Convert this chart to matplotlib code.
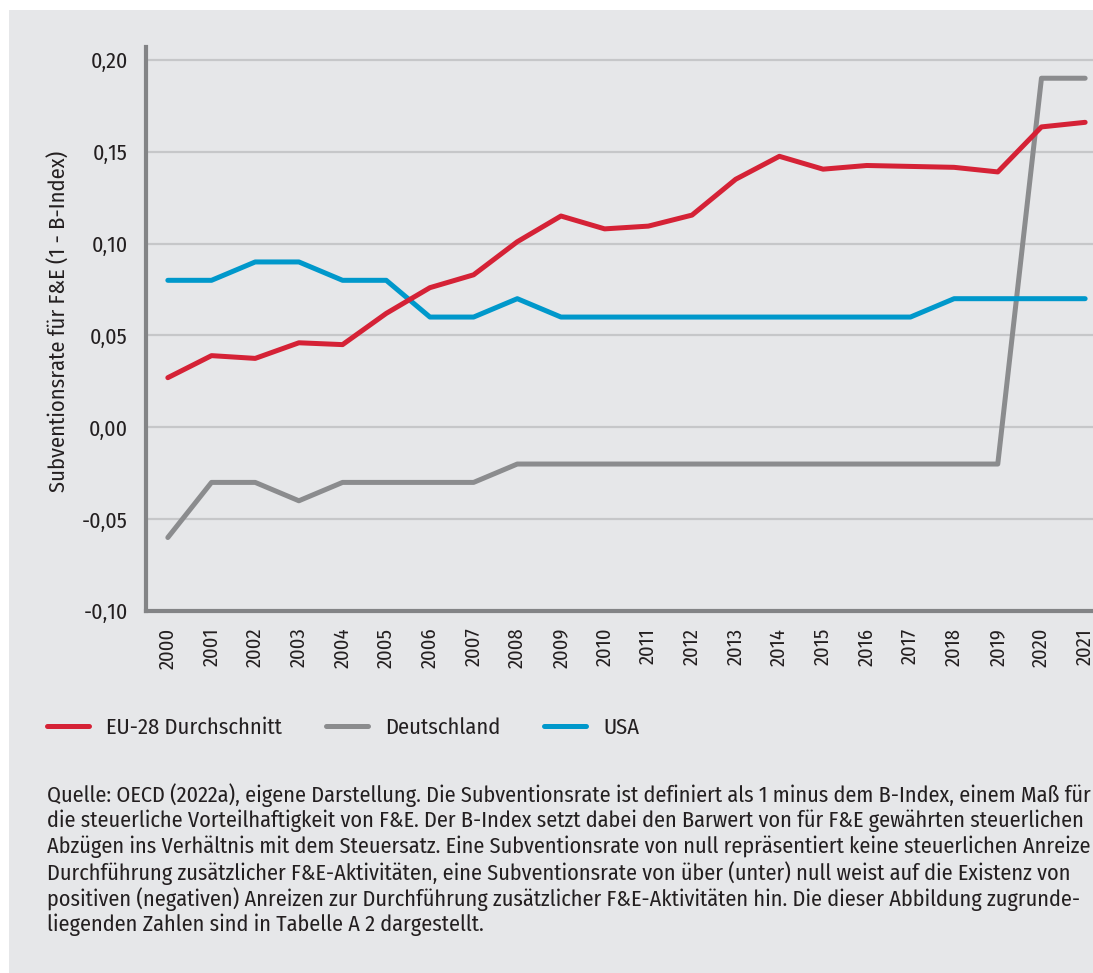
import numpy as np
import matplotlib
matplotlib.use('Agg')
import matplotlib.pyplot as plt
from matplotlib.patches import Rectangle

plt.rcParams['font.family'] = ['Fira Sans Condensed', 'DejaVu Sans']

years = list(range(2000, 2022))
eu28 = [0.027, 0.039, 0.0375, 0.046, 0.045, 0.062, 0.076, 0.083, 0.101, 0.115,
        0.108, 0.1095, 0.1155, 0.135, 0.1475, 0.1405, 0.1425, 0.142, 0.1415, 0.139,
        0.1635, 0.166]
deutschland = [-0.06, -0.03, -0.03, -0.04, -0.03, -0.03, -0.03, -0.03, -0.02, -0.02,
               -0.02, -0.02, -0.02, -0.02, -0.02, -0.02, -0.02, -0.02, -0.02, -0.02,
               0.19, 0.19]
usa = [0.08, 0.08, 0.09, 0.09, 0.08, 0.08, 0.06, 0.06, 0.07, 0.06,
       0.06, 0.06, 0.06, 0.06, 0.06, 0.06, 0.06, 0.06, 0.07, 0.07,
       0.07, 0.07]
yticks = [-0.10, -0.05, 0.00, 0.05, 0.10, 0.15, 0.20]
ytick_labels = ['-0,10', '-0,05', '0,00', '0,05', '0,10', '0,15', '0,20']

caption = [
    "Quelle: OECD (2022a), eigene Darstellung. Die Subventionsrate ist definiert als 1 minus dem B-Index, einem Maß für",
    "die steuerliche Vorteilhaftigkeit von F&E. Der B-Index setzt dabei den Barwert von für F&E gewährten steuerlichen",
    "Abzügen ins Verhältnis mit dem Steuersatz. Eine Subventionsrate von null repräsentiert keine steuerlichen Anreize zur",
    "Durchführung zusätzlicher F&E-Aktivitäten, eine Subventionsrate von über (unter) null weist auf die Existenz von",
    "positiven (negativen) Anreizen zur Durchführung zusätzlicher F&E-Aktivitäten hin. Die dieser Abbildung zugrunde-",
    "liegenden Zahlen sind in Tabelle A 2 dargestellt.",
]

W, H = 1093, 973
bg = '#e6e7e9'
red = '#d52236'
grey = '#8b8c8e'
blue = '#0098cb'
txt = '#231f20'

fig = plt.figure(figsize=(W / 100, H / 100), dpi=100, facecolor='white')
fig.patches.append(Rectangle((9 / W, 0), 1, 1 - 10 / H, transform=fig.transFigure,
                             facecolor=bg, edgecolor='none', zorder=-10))

ax = fig.add_axes([146 / W, 1 - 611 / H, 1 - 146 / W, (611 - 47) / H])
ax.set_facecolor('none')
l_de, = ax.plot(years, deutschland, color=grey, lw=3.6, solid_capstyle='round', zorder=3)
l_us, = ax.plot(years, usa, color=blue, lw=3.6, solid_capstyle='round', zorder=4)
l_eu, = ax.plot(years, eu28, color=red, lw=3.6, solid_capstyle='round', zorder=5)

ax.set_xlim(1999.5, 2021.18)
ax.set_ylim(-0.10, 0.207)
ax.set_yticks(yticks)
ax.set_yticklabels(ytick_labels)
ax.set_xticks(years)
ax.set_xticklabels([str(y) for y in years], rotation=90)
ax.tick_params(axis='both', length=0, colors=txt)
ax.tick_params(axis='y', pad=13, labelsize=15.8)
ax.tick_params(axis='x', pad=12, labelsize=14.8)
for yv in yticks[1:]:
    ax.axhline(yv, color='#c6c7c9', lw=1.6, zorder=1)
for s in ['top', 'right']:
    ax.spines[s].set_visible(False)
for s in ['left', 'bottom']:
    ax.spines[s].set_color('#838486')
    ax.spines[s].set_linewidth(3)

fig.text(58 / W, 1 - 321 / H, 'Subventionsrate für F&E (1 - B-Index)', rotation=90,
         ha='center', va='center', fontsize=16.2, color=txt)

# legend
fig.legend(handles=[l_eu, l_de, l_us],
           labels=['EU-28 Durchschnitt', 'Deutschland', 'USA'],
           loc='center left', bbox_to_anchor=(27 / W, 1 - 728 / H), ncol=3,
           frameon=False, fontsize=16.2, handlelength=1.87, handletextpad=0.75,
           columnspacing=1.95, labelcolor=txt)

for i, line in enumerate(caption):
    fig.text(47 / W, 1 - (795 + 26 * i) / H, line, ha='left', va='center',
             fontsize=16, color=txt)

fig.savefig('out.png', dpi=100, facecolor='white')
